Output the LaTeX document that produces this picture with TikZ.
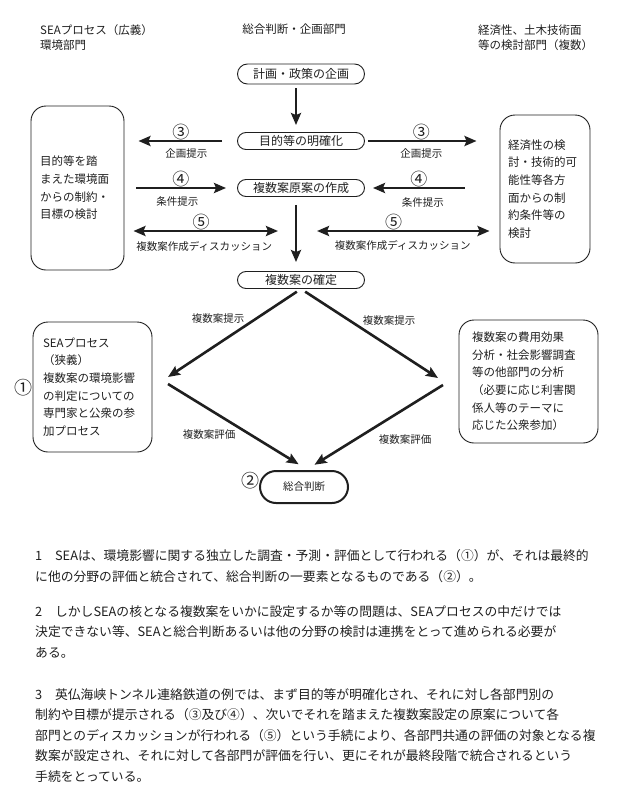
\documentclass[tikz,border=0pt]{standalone}
\usepackage{fontspec}
\setmainfont{Noto Sans CJK JP}
\usepackage{tikz}
\usetikzlibrary{arrows.meta}
\definecolor{inkgray}{rgb}{0.12,0.12,0.12}

\begin{document}
\begin{tikzpicture}[x=1pt,y=-1pt,text=inkgray,
  >={Stealth[length=12pt,width=10pt,inset=2pt]},
  pill/.style={draw=inkgray,line width=0.9pt,rounded corners=8.5pt,minimum width=127pt,minimum height=17pt,inner sep=0pt,font=\fontsize{12}{12}\selectfont},
  panel/.style={draw=inkgray,line width=0.9pt,rounded corners=15pt,align=left,font=\fontsize{11.5}{17.6}\selectfont},
  flow/.style={draw=inkgray,line width=2.6pt,->},
  twoway/.style={draw=inkgray,line width=2.6pt,<->},
  lbl/.style={inner sep=0pt,font=\fontsize{10.5}{12}\selectfont},
  num/.style={inner sep=0pt,font=\fontsize{17}{17}\selectfont},
  head/.style={anchor=north west,inner sep=0pt,align=left,font=\fontsize{11.5}{15}\selectfont},
  para/.style={anchor=west,inner sep=0pt,font=\fontsize{12.8}{13}\selectfont}]
\useasboundingbox (0,0) rectangle (621,787);

% headings
\node[head] (hdrL) at (40,24) {SEAプロセス（広義）\\環境部門};
\node[head,anchor=north] (hdrC) at (294,24) {総合判断・企画部門};
\node[head] (hdrR) at (478,25) {経済性、土木技術面\\等の検討部門（複数）};

% centre column
\node[pill,minimum height=20pt,rounded corners=10pt] (plan) at (301,74) {計画・政策の企画};
\node[pill] (goal) at (301,141) {目的等の明確化};
\node[pill] (draft) at (301,188) {複数案原案の作成};
\node[pill] (fix) at (301,280) {複数案の確定};
\node[pill,line width=2pt,minimum width=88pt,minimum height=32pt,rounded corners=16pt,font=\fontsize{10.5}{12}\selectfont] (judge) at (304,487) {総合判断};
\draw[flow,shorten <=4pt,shorten >=7pt] ([xshift=-5pt]plan.south) -- ([xshift=-5pt]goal.north);
\draw[flow,shorten <=8pt,shorten >=9pt] ([xshift=-5pt]draft.south) -- ([xshift=-5pt]fix.north);

% side panels
\node[panel,text width=75pt,inner xsep=9pt,minimum height=164pt] (envBox) at (77.5,188) {目的等を踏\\まえた環境面\\からの制約・\\目標の検討};
\node[panel,text width=74pt,inner xsep=8pt,minimum height=148pt] (ecoBox) at (545,189) {経済性の検\\討・技術的可\\能性等各方\\面からの制\\約条件等の\\検討};
\node[panel,text width=99pt,inner xsep=10pt,minimum height=130pt] (seaBox) at (92.5,387) {SEAプロセス\\（狭義）\\複数案の環境影響\\の判定についての\\専門家と公衆の参\\加プロセス};
\node[panel,text width=113pt,inner xsep=13pt,minimum height=123pt] (otherBox) at (528.5,381.5) {複数案の費用効果\\分析・社会影響調査\\等の他部門の分析\\（必要に応じ利害関\\係人等のテーマに\\応じた公衆参加）};

% (3) and (4)
\draw[flow,shorten <=15pt,shorten >=14pt] (goal.west) -- node[num,above,pos=0.5] (n3L) {③} node[lbl,below=6pt,pos=0.45] (t3L) {企画提示} (goal.west -| envBox.east);
\draw[flow,shorten <=3pt,shorten >=23pt] (goal.east) -- node[num,above,pos=0.42] (n3R) {③} node[lbl,below=6pt,pos=0.42] (t3R) {企画提示} (goal.east -| ecoBox.west);
\draw[flow,shorten <=12pt,shorten >=11pt] (draft.west -| envBox.east) -- node[num,above,pos=0.5] (n4L) {④} node[lbl,below=7pt,pos=0.47] (t4L) {条件提示} (draft.west);
\draw[flow,shorten <=35pt,shorten >=8pt] (draft.east -| ecoBox.west) -- node[num,above,pos=0.6] (n4R) {④} node[lbl,below=8pt,pos=0.57] (t4R) {条件提示} (draft.east);

% (5)
\coordinate (midL) at (278,231);
\coordinate (midR) at (317,231);
\draw[twoway,shorten <=9pt] (envBox.east |- midL) -- node[num,above,pos=0.5] (n5L) {⑤} node[lbl,below=9pt,pos=0.52] (t5L) {複数案作成ディスカッション} (midL);
\draw[twoway,shorten >=10pt] (midR) -- node[num,above,pos=0.42] (n5R) {⑤} node[lbl,below=8pt,pos=0.47] (t5R) {複数案作成ディスカッション} (midR -| ecoBox.west);

% diamond
\coordinate (tipL) at (168,377);
\coordinate (baseL) at (168,384);
\coordinate (tipR) at (438,378);
\coordinate (baseR) at (443,385);
\draw[flow,shorten <=5pt] (fix.south) -- (tipL);
\draw[flow,shorten <=5pt] (fix.south) -- (tipR);
\draw[flow,shorten >=11pt] (baseL) -- ([xshift=4pt]judge.north);
\draw[flow,shorten >=10pt] (baseR) -- ([xshift=2pt]judge.north);
\node[lbl] (showL) at (218,319) {複数案提示};
\node[lbl] (showR) at (389,321) {複数案提示};
\node[lbl] (evalL) at (209,435) {複数案評価};
\node[lbl] (evalR) at (405,440) {複数案評価};
\node[num,font=\fontsize{18}{18}\selectfont] (n1) at (23,388) {①};
\node[num,font=\fontsize{18}{18}\selectfont] (n2) at (250,481) {②};

% notes
\node[para] (p1a) at (35,556) {1　SEAは、環境影響に関する独立した調査・予測・評価として行われる（①）が、それは最終的};
\node[para] (p1b) at (35,577) {に他の分野の評価と統合されて、総合判断の一要素となるものである（②）。};
\node[para] (p2a) at (35,612) {2　しかしSEAの核となる複数案をいかに設定するか等の問題は、SEAプロセスの中だけでは};
\node[para] (p2b) at (35,632) {決定できない等、SEAと総合判断あるいは他の分野の検討は連携をとって進められる必要が};
\node[para] (p2c) at (35,653) {ある。};
\node[para] (p3a) at (35,695) {3　英仏海峡トンネル連絡鉄道の例では、まず目的等が明確化され、それに対し各部門別の};
\node[para] (p3b) at (35,715) {制約や目標が提示される（③及び④）、次いでそれを踏まえた複数案設定の原案について各};
\node[para] (p3c) at (35,736) {部門とのディスカッションが行われる（⑤）という手続により、各部門共通の評価の対象となる複};
\node[para] (p3d) at (35,756) {数案が設定され、それに対して各部門が評価を行い、更にそれが最終段階で統合されるという};
\node[para] (p3e) at (35,777) {手続をとっている。};
\end{tikzpicture}
\end{document}
